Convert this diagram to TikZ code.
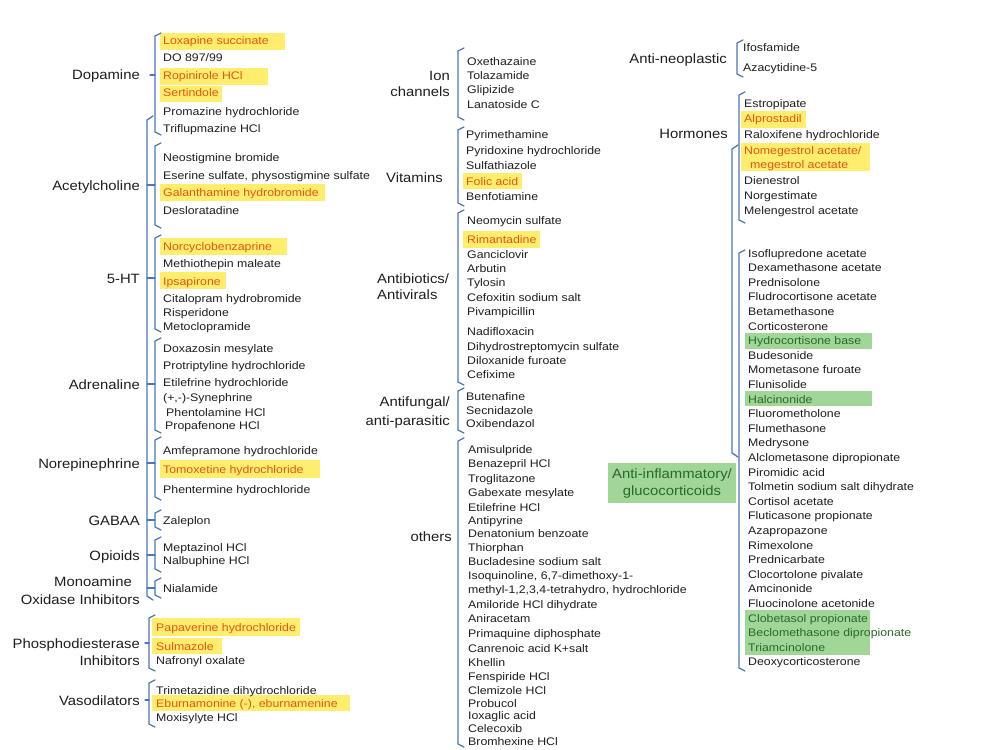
\documentclass[tikz,border=0pt]{standalone}
\usepackage{fontspec}
\setmainfont{Liberation Sans}
\newfontfamily\itemfont[FakeStretch=1.12]{Liberation Sans}
\newfontfamily\labfont[FakeStretch=1.1]{Liberation Sans}
\definecolor{brk}{RGB}{74,120,184}
\definecolor{ink}{RGB}{30,30,30}
\definecolor{hly}{RGB}{255,238,110}
\definecolor{hlr}{RGB}{230,85,20}
\definecolor{hlg}{RGB}{160,215,150}
\definecolor{gtext}{RGB}{40,105,40}
\newcommand\IT[5][]{\node[item,#1] (#2) at (#3,#4+4) {#5};}
\newcommand\LB[5][]{\node[lab,#1] (#2) at (#3,#4+5) {#5};}
\newcommand\BR[4]{\draw[brace] (#1+6,#2) -- (#1,#2+3) -- (#1,#3-3) -- (#1+6,#3);}
\newcommand\TK[3]{\draw[brace] (#1,#3) -- (#2,#3);}
\begin{document}
\begin{tikzpicture}[x=1pt,y=-1pt,
  item/.style={font={\itemfont\fontsize{11}{13}\selectfont}, text=ink, inner sep=0pt, anchor=base west},
  red/.style={text=hlr},
  grn/.style={text=gtext},
  lab/.style={font={\labfont\fontsize{13.5}{16}\selectfont}, text=ink, inner sep=0pt, anchor=base east},
  labw/.style={lab, anchor=base west},
  brace/.style={draw=brk, line width=1.3pt, line join=round, line cap=round},
  ybox/.style={fill=hly},
  gbox/.style={fill=hlg}]
\fill[white] (0,0) rectangle (1003,749);
\useasboundingbox (0,0) rectangle (1003,749);

% highlight boxes
\fill[ybox] (160,33) rectangle (285,50);
\fill[ybox] (160,68) rectangle (268,85);
\fill[ybox] (160,86) rectangle (222,102);
\fill[ybox] (160,184) rectangle (325,201);
\fill[ybox] (160,238) rectangle (287,255);
\fill[ybox] (160,272) rectangle (226,289);
\fill[ybox] (160,460) rectangle (320,478);
\fill[ybox] (152,618) rectangle (300,636);
\fill[ybox] (152,638) rectangle (222,654);
\fill[ybox] (152,695) rectangle (350,711);
\fill[ybox] (463,173) rectangle (522,189);
\fill[ybox] (463,231) rectangle (540,248);
\fill[ybox] (741,111) rectangle (806,128);
\fill[ybox] (741,143) rectangle (870,171);
\fill[gbox] (745,333) rectangle (872,349);
\fill[gbox] (745,391) rectangle (872,406);
\fill[gbox] (745,610) rectangle (870,655);
\fill[gbox] (608,463) rectangle (736,503);

% left column brackets
\BR{155}{33}{135}{75}
\BR{155}{143}{228}{185}
\BR{155}{235}{332}{278}
\BR{155}{338}{433}{384}
\BR{155}{437}{500}{463}
\BR{155}{510}{530}{520}
\BR{155}{537}{572}{555}
\BR{155}{578}{598}{588}
\BR{149}{615}{671}{643}
\BR{149}{680}{727}{700}
\draw[brace] (153,116) -- (147,120) -- (147,596) -- (153,600);
\TK{150}{155}{75}
\TK{147}{155}{185}
\TK{147}{155}{278}
\TK{147}{155}{384}
\TK{147}{155}{463}
\TK{147}{155}{520}
\TK{147}{155}{555}
\TK{147}{155}{588}
\TK{145}{149}{643}
\TK{145}{149}{700}

% middle brackets
\BR{458}{48}{120}{84}
\BR{458}{127}{206}{166}
\BR{458}{210}{385}{298}
\BR{458}{388}{433}{410}
\BR{458}{438}{747}{592}

% right brackets
\BR{737}{40}{77}{58}
\BR{739}{92}{223}{157}
\draw[brace] (738,145) -- (732,149) -- (732,453) -- (738,457);
\BR{739}{250}{671}{460}

% left labels
\LB{Ldop}{140}{75}{Dopamine}
\LB{Lach}{140}{185}{Acetylcholine}
\LB{Lht}{140}{278}{5-HT}
\LB{Ladr}{140}{384}{Adrenaline}
\LB{Lnor}{140}{463}{Norepinephrine}
\LB{Lgab}{140}{520}{GABAA}
\LB{Lopi}{140}{555}{Opioids}
\LB{Lmao1}{132}{581}{Monoamine}
\LB{Lmao2}{140}{599}{Oxidase Inhibitors}
\LB{Lpde1}{140}{643}{Phosphodiesterase}
\LB{Lpde2}{140}{660}{Inhibitors}
\LB{Lvas}{140}{700}{Vasodilators}

% left items
\IT[red]{dop1}{163}{41}{Loxapine succinate}
\IT{dop2}{163}{58}{DO 897/99}
\IT[red]{dop3}{163}{76}{Ropinirole HCl}
\IT[red]{dop4}{163}{93}{Sertindole}
\IT{dop5}{163}{112}{Promazine hydrochloride}
\IT{dop6}{163}{128}{Triflupmazine HCl}
\IT{ach1}{163}{157}{Neostigmine bromide}
\IT{ach2}{163}{175}{Eserine sulfate, physostigmine sulfate}
\IT[red]{ach3}{163}{192}{Galanthamine hydrobromide}
\IT{ach4}{163}{210}{Desloratadine}
\IT[red]{ht1}{163}{246}{Norcyclobenzaprine}
\IT{ht2}{163}{263}{Methiothepin maleate}
\IT[red]{ht3}{163}{281}{Ipsapirone}
\IT{ht4}{163}{298}{Citalopram hydrobromide}
\IT{ht5}{163}{312}{Risperidone}
\IT{ht6}{163}{326}{Metoclopramide}
\IT{adr1}{163}{348}{Doxazosin mesylate}
\IT{adr2}{163}{365}{Protriptyline hydrochloride}
\IT{adr3}{163}{382}{Etilefrine hydrochloride}
\IT{adr4}{163}{397}{(+,-)-Synephrine}
\IT{adr5}{166}{412}{Phentolamine HCl}
\IT{adr6}{165}{425}{Propafenone HCl}
\IT{nor1}{163}{450}{Amfepramone hydrochloride}
\IT[red]{nor2}{163}{469}{Tomoxetine hydrochloride}
\IT{nor3}{163}{489}{Phentermine  hydrochloride}
\IT{gab1}{163}{520}{Zaleplon}
\IT{opi1}{163}{547}{Meptazinol HCl}
\IT{opi2}{163}{560}{Nalbuphine HCl}
\IT{mao1}{163}{588}{Nialamide}
\IT[red]{pde1}{156}{627}{Papaverine hydrochloride}
\IT[red]{pde2}{156}{646}{Sulmazole}
\IT{pde3}{156}{660}{Nafronyl oxalate}
\IT{vas1}{156}{690}{Trimetazidine dihydrochloride}
\IT[red]{vas2}{156}{703}{Eburnamonine (-), eburnamenine}
\IT{vas3}{156}{717}{Moxisylyte HCl}

% middle labels
\LB{Lion1}{450}{76}{Ion}
\LB{Lion2}{450}{92}{channels}
\LB{Lvit}{443}{177}{Vitamins}
\LB[labw]{Lab1}{377}{278}{Antibiotics/}
\LB[labw]{Lab2}{377}{294}{Antivirals}
\LB{Laf1}{450}{401}{Antifungal/}
\LB{Laf2}{450}{420}{anti-parasitic}
\LB{Loth}{452}{536}{others}

% middle items
\IT{ion1}{467}{62}{Oxethazaine}
\IT{ion2}{467}{76}{Tolazamide}
\IT{ion3}{467}{90}{Glipizide}
\IT{ion4}{467}{105}{Lanatoside C}
\IT{vit1}{466}{135}{Pyrimethamine}
\IT{vit2}{466}{150}{Pyridoxine hydrochloride}
\IT{vit3}{466}{165}{Sulfathiazole}
\IT[red]{vit4}{466}{181}{Folic acid}
\IT{vit5}{466}{196}{Benfotiamine}
\IT{ab1}{467}{220}{Neomycin sulfate}
\IT[red]{ab2}{467}{239}{Rimantadine}
\IT{ab3}{467}{254}{Ganciclovir}
\IT{ab4}{467}{268}{Arbutin}
\IT{ab5}{467}{282}{Tylosin}
\IT{ab6}{467}{297}{Cefoxitin sodium salt}
\IT{ab7}{467}{311}{Pivampicillin}
\IT{ab8}{467}{331}{Nadifloxacin}
\IT{ab9}{467}{346}{Dihydrostreptomycin sulfate}
\IT{ab10}{467}{360}{Diloxanide furoate}
\IT{ab11}{467}{374}{Cefixime}
\IT{af1}{466}{396}{Butenafine}
\IT{af2}{466}{410}{Secnidazole}
\IT{af3}{466}{423}{Oxibendazol}
\IT{ot1}{468}{449}{Amisulpride}
\IT{ot2}{468}{463}{Benazepril HCl}
\IT{ot3}{468}{478}{Troglitazone}
\IT{ot4}{468}{492}{Gabexate mesylate}
\IT{ot5}{468}{507}{Etilefrine HCl}
\IT{ot6}{468}{520}{Antipyrine}
\IT{ot7}{468}{533}{Denatonium benzoate}
\IT{ot8}{468}{547}{Thiorphan}
\IT{ot9}{468}{561}{Bucladesine sodium salt}
\IT{ot10}{468}{575}{Isoquinoline, 6,7-dimethoxy-1-}
\IT{ot11}{468}{589}{methyl-1,2,3,4-tetrahydro, hydrochloride}
\IT{ot12}{468}{604}{Amiloride HCl dihydrate}
\IT{ot13}{468}{618}{Aniracetam}
\IT{ot14}{468}{633}{Primaquine diphosphate}
\IT{ot15}{468}{648}{Canrenoic acid K+salt}
\IT{ot16}{468}{662}{Khellin}
\IT{ot17}{468}{676}{Fenspiride HCl}
\IT{ot18}{468}{690}{Clemizole HCl}
\IT{ot19}{468}{703}{Probucol}
\IT{ot20}{468}{715}{Ioxaglic acid}
\IT{ot21}{468}{728}{Celecoxib}
\IT{ot22}{468}{741}{Bromhexine HCl}

% right labels
\LB{Lneo}{727}{59}{Anti-neoplastic}
\LB{Lhor}{728}{134}{Hormones}
\node[lab, anchor=base, text=gtext] (Lgc1) at (672,478) {Anti-inflammatory/};
\node[lab, anchor=base, text=gtext] (Lgc2) at (672,495) {glucocorticoids};

% right items
\IT{neo1}{743}{48}{Ifosfamide}
\IT{neo2}{743}{68}{Azacytidine-5}
\IT{hor1}{744}{104}{Estropipate}
\IT[red]{hor2}{744}{119}{Alprostadil}
\IT{hor3}{744}{135}{Raloxifene hydrochloride}
\IT[red]{hor4}{744}{150}{Nomegestrol acetate/}
\IT[red]{hor5}{750}{164}{megestrol acetate}
\IT{hor6}{744}{180}{Dienestrol}
\IT{hor7}{744}{195}{Norgestimate}
\IT{hor8}{744}{210}{Melengestrol acetate}
\IT{gc0}{748}{253}{Isoflupredone acetate}
\IT{gc1}{748}{267.6}{Dexamethasone acetate}
\IT{gc2}{748}{282.2}{Prednisolone}
\IT{gc3}{748}{296.8}{Fludrocortisone acetate}
\IT{gc4}{748}{311.4}{Betamethasone}
\IT{gc5}{748}{326}{Corticosterone}
\IT[grn]{gc6}{748}{340.6}{Hydrocortisone base}
\IT{gc7}{748}{355.2}{Budesonide}
\IT{gc8}{748}{369.8}{Mometasone furoate}
\IT{gc9}{748}{384.4}{Flunisolide}
\IT[grn]{gc10}{748}{399}{Halcinonide}
\IT{gc11}{748}{413.6}{Fluorometholone}
\IT{gc12}{748}{428.2}{Flumethasone}
\IT{gc13}{748}{442.8}{Medrysone}
\IT{gc14}{748}{457.4}{Alclometasone dipropionate}
\IT{gc15}{748}{472}{Piromidic acid}
\IT{gc16}{748}{486.6}{Tolmetin sodium salt dihydrate}
\IT{gc17}{748}{501.2}{Cortisol acetate}
\IT{gc18}{748}{515.8}{Fluticasone propionate}
\IT{gc19}{748}{530.4}{Azapropazone}
\IT{gc20}{748}{545}{Rimexolone}
\IT{gc21}{748}{559.6}{Prednicarbate}
\IT{gc22}{748}{574.2}{Clocortolone pivalate}
\IT{gc23}{748}{588.8}{Amcinonide}
\IT{gc24}{748}{603.4}{Fluocinolone acetonide}
\IT[grn]{gc25}{748}{618}{Clobetasol propionate}
\IT[grn]{gc26}{748}{632.6}{Beclomethasone dipropionate}
\IT[grn]{gc27}{748}{647.2}{Triamcinolone}
\IT{gc28}{748}{661.8}{Deoxycorticosterone}
\end{tikzpicture}
\end{document}
